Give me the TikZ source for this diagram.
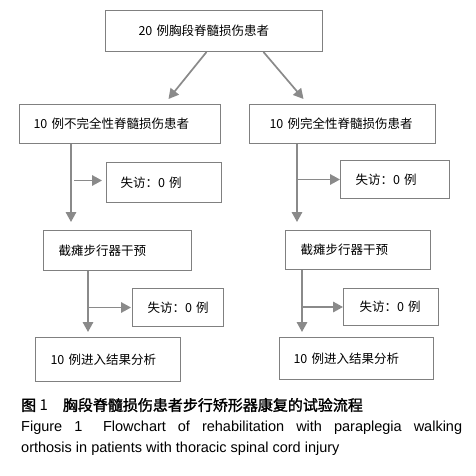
\documentclass[tikz,border=0pt]{standalone}
\usepackage{fontspec}
\setmainfont{Liberation Sans}
\newfontfamily\cjk{Noto Sans CJK SC}
\newfontfamily\cjkcap[FakeBold=1.6]{Noto Sans CJK SC}
\usetikzlibrary{arrows.meta,calc}
\definecolor{boxgray}{HTML}{808080}
\definecolor{arrgray}{HTML}{8A8A8A}

\begin{document}
\begin{tikzpicture}[x=1pt,y=-1pt,
    box/.style={draw=boxgray, line width=1pt, anchor=north west, inner xsep=0pt, inner ysep=0pt, align=left, font=\cjk\fontsize{12.5}{15}\selectfont},
    arr/.style={draw=arrgray, line width=1.7pt, -{Triangle[length=10pt,width=10.5pt]}}]
\useasboundingbox (0,0) rectangle (476,476);

\node[box, text width=217pt, minimum height=41pt] (all) at (105,10) {\hspace*{33pt}20 例胸段脊髓损伤患者};
\node[box, text width=201pt, minimum height=39pt] (inc) at (19,104) {\hspace*{14pt}10 例不完全性脊髓损伤患者};
\node[box, text width=186pt, minimum height=39pt] (com) at (249,104) {\hspace*{20pt}10 例完全性脊髓损伤患者};
\node[box, text width=115pt, minimum height=40pt] (lossL1) at (106,162) {\hspace*{14pt}失访：0 例};
\node[box, text width=109pt, minimum height=38pt] (lossR1) at (340,160) {\hspace*{15pt}失访：0 例};
\node[box, text width=148pt, minimum height=40pt] (intL) at (43,230) {\hspace*{15pt}截瘫步行器干预};
\node[box, text width=145pt, minimum height=39pt] (intR) at (285,230) {\hspace*{15pt}截瘫步行器干预};
\node[box, text width=91pt, minimum height=38pt] (lossL2) at (132,288) {\hspace*{15pt}失访：0 例};
\node[box, text width=95pt, minimum height=37pt] (lossR2) at (343,288) {\hspace*{16pt}失访：0 例};
\node[box, text width=145pt, minimum height=44pt] (resL) at (35,337) {\hspace*{15pt}10 例进入结果分析};
\node[box, text width=154pt, minimum height=42pt] (resR) at (279,337) {\hspace*{14pt}10 例进入结果分析};

\draw[arr] ([xshift=-7.5pt]all.south) to ([xshift=48.5pt,yshift=5pt]inc.north);
\draw[arr] ([xshift=49.5pt]all.south) to ([xshift=-39pt,yshift=5pt]com.north);

\path (inc.south west) ++(52pt,0) coordinate (incdown);
\path (com.south west) ++(48pt,0) coordinate (comdown);
\path (intL.south west) ++(45pt,0) coordinate (intLdown);
\path (intR.south west) ++(17pt,0) coordinate (intRdown);

\draw[arr, shorten >=8pt] (incdown) to (incdown |- intL.north);
\draw[arr, shorten <=3pt, shorten >=4pt] ([yshift=2pt]incdown |- lossL1.west) to ([yshift=2pt]lossL1.west);
\draw[arr, shorten >=8pt] (comdown) to (comdown |- intR.north);
\draw[arr] (comdown |- lossR1.west) to (lossR1.west);

\draw[arr, shorten >=5pt] (intLdown) to (intLdown |- resL.north);
\draw[arr, shorten >=1pt] (intLdown |- lossL2.west) to (lossL2.west);
\draw[arr, shorten >=5pt] (intRdown) to (intRdown |- resR.north);
\draw[arr] (intRdown |- lossR2.west) to (lossR2.west);

\node[anchor=west, inner sep=0pt, font=\cjkcap\fontsize{15}{18}\selectfont] (capcn) at (21,405) {图 {\cjk 1}\hspace{1em}胸段脊髓损伤患者步行矫形器康复的试验流程};
\node[anchor=north west, inner sep=0pt, text width=441pt, align=justify, font=\fontsize{14.5}{21}\selectfont] (capen) at (21,421) {Figure 1\hspace{0.6em} Flowchart of rehabilitation with paraplegia walking\linebreak orthosis in patients with thoracic spinal cord injury};
\end{tikzpicture}
\end{document}
